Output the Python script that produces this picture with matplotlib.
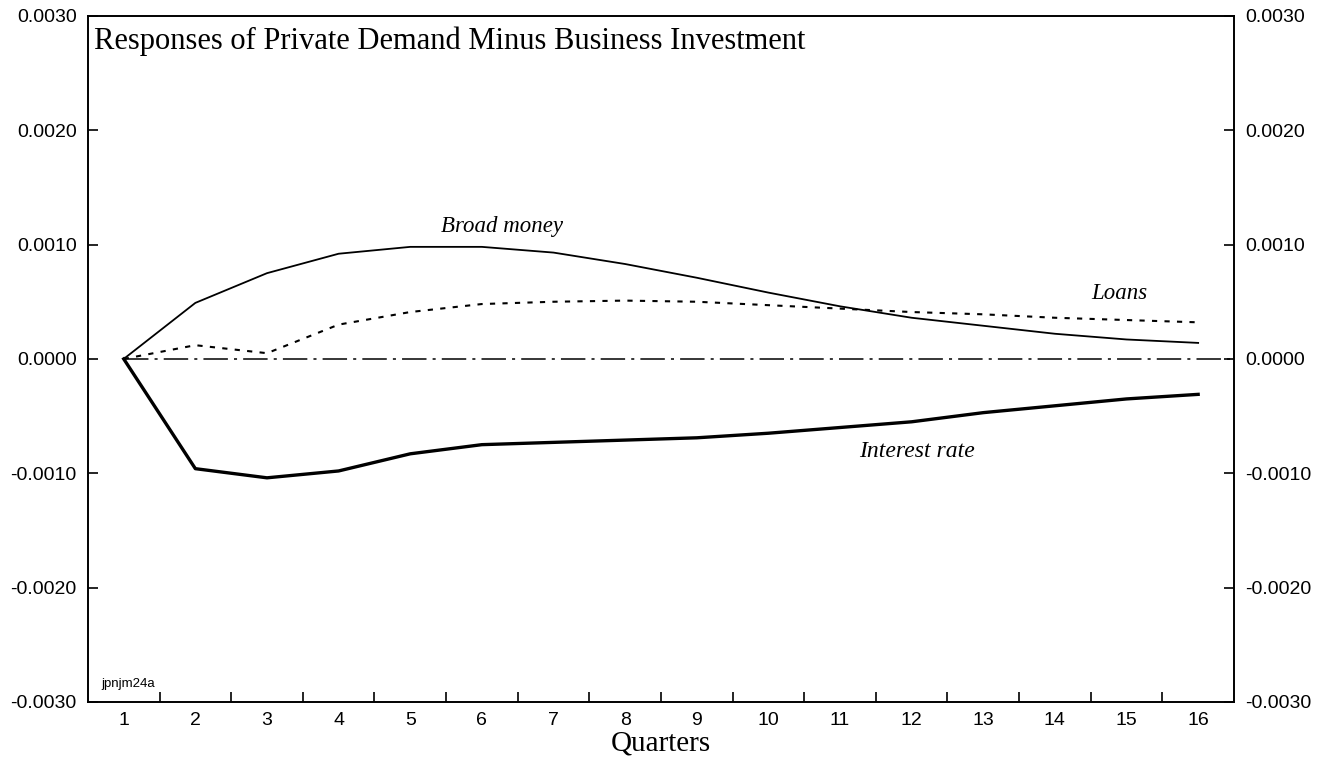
#!/usr/bin/env python3
# Respuestas de la demanda privada menos inversión empresarial (16 trimestres)
import numpy as np
import matplotlib
matplotlib.use("Agg")
import matplotlib.pyplot as plt

quarters = np.arange(1, 17)
broad_money = [0.0, 0.00049, 0.00075, 0.00092, 0.00098, 0.00098, 0.00093, 0.00083,
               0.00071, 0.00058, 0.00046, 0.00036, 0.00029, 0.00022, 0.00017, 0.00014]
loans = [0.0, 0.00012, 0.00005, 0.00030, 0.00041, 0.00048, 0.00050, 0.00051,
         0.00050, 0.00047, 0.00044, 0.00041, 0.00039, 0.00036, 0.00034, 0.00032]
interest_rate = [0.0, -0.00096, -0.00104, -0.00098, -0.00083, -0.00075, -0.00073, -0.00071,
                 -0.00069, -0.00065, -0.00060, -0.00055, -0.00047, -0.00041, -0.00035, -0.00031]
yticks = [-0.003, -0.002, -0.001, 0.0, 0.001, 0.002, 0.003]

SERIF = "Liberation Serif"
SANS = "Liberation Sans"

fig = plt.figure(figsize=(13.32, 7.58), dpi=100)
ax = fig.add_axes([0.066, 0.074, 0.8604, 0.905])

ax.plot(quarters, broad_money, color="black", lw=1.3)
ax.plot(quarters, loans, color="black", lw=1.5, ls=(0, (2.5, 3.5)))
ax.plot(quarters, interest_rate, color="black", lw=2.4)
ax.plot([1, 16.5], [0, 0], color="black", lw=1.1, ls=(0, (16, 4, 2, 4)))

ax.set_xlim(0.5, 16.5)
ax.set_ylim(-0.003, 0.003)
ax.set_yticks(yticks)
ax.set_yticklabels([f"{v:.4f}" for v in yticks], family=SANS, fontsize=14)
ax.set_xticks(quarters)
ax.set_xticklabels([str(q) for q in quarters], family=SANS, fontsize=14)
ax.set_xticks(np.arange(1.5, 16, 1), minor=True)
ax.tick_params(axis="x", which="major", length=0, pad=7)
ax.tick_params(axis="x", which="minor", direction="in", length=7, width=1.2)
ax.tick_params(axis="y", direction="in", length=7, width=1.2, left=True, right=True,
               labelleft=True, labelright=True, pad=8)
for s in ax.spines.values():
    s.set_linewidth(1.4)

ax.set_xlabel("Quarters", family=SERIF, fontsize=21, labelpad=1)
ax.text(0.005, 0.985, "Responses of Private Demand Minus Business Investment",
        transform=ax.transAxes, ha="left", va="top", family=SERIF, fontsize=22)
ax.text(0.012, 0.022, "jpnjm24a", transform=ax.transAxes, family=SANS, fontsize=9.5)

ax.text(6.28, 0.00116, "Broad money", family=SERIF, style="italic", fontsize=16.5,
        ha="center", va="center")
ax.text(14.9, 0.00057, "Loans", family=SERIF, style="italic", fontsize=16.5,
        ha="center", va="center")
ax.text(12.08, -0.00081, "Interest rate", family=SERIF, style="italic", fontsize=17,
        ha="center", va="center")

fig.savefig("out.png", dpi=100)
